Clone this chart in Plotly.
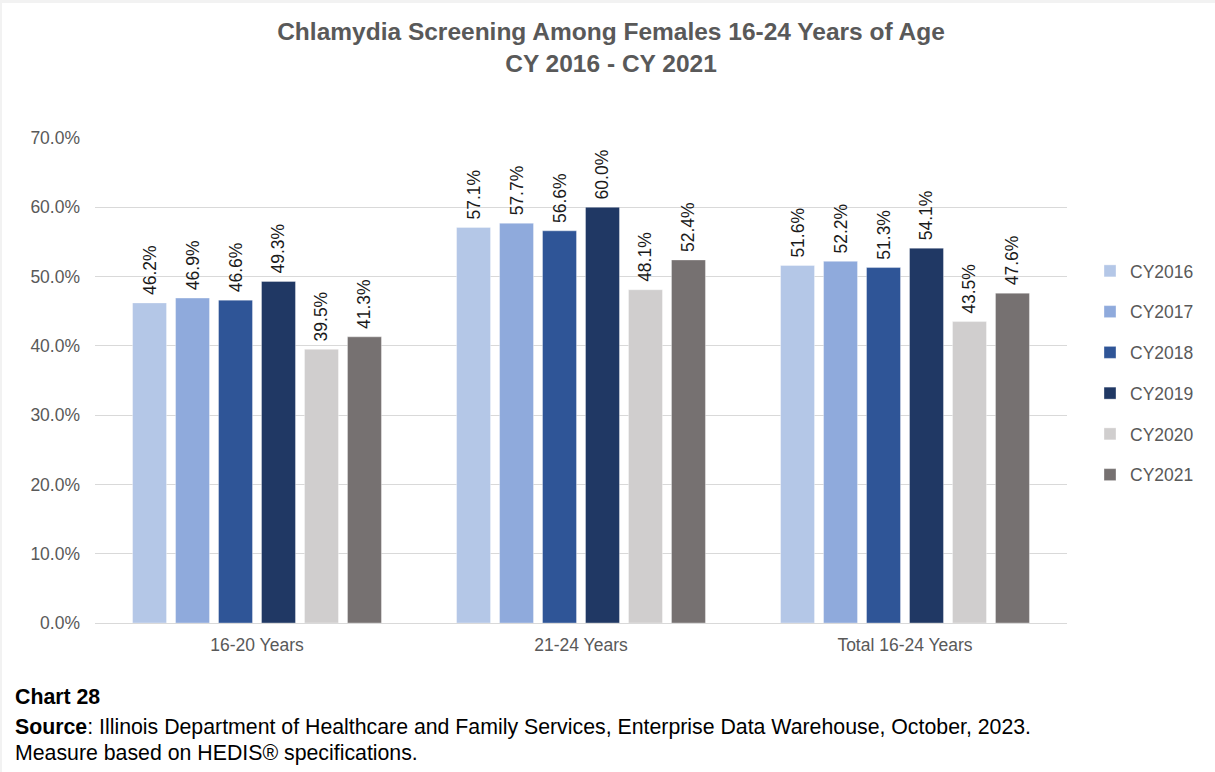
import plotly.graph_objects as go

# Screening rates (share of members screened) by age group and calendar year
categories = ["16-20 Years", "21-24 Years", "Total 16-24 Years"]
years = ["CY2016", "CY2017", "CY2018", "CY2019", "CY2020", "CY2021"]
cy2016 = [0.462, 0.571, 0.516]
cy2017 = [0.469, 0.577, 0.522]
cy2018 = [0.466, 0.566, 0.513]
cy2019 = [0.493, 0.600, 0.541]
cy2020 = [0.395, 0.481, 0.435]
cy2021 = [0.413, 0.524, 0.476]
series = [cy2016, cy2017, cy2018, cy2019, cy2020, cy2021]
colors = ["#b4c7e7", "#8faadc", "#2f5597", "#203864", "#d0cece", "#767171"]

W, H = 1215, 772
ML, MR, MT, MB = 95, 148, 138, 149
PW, PH = W - ML - MR, H - MT - MB

FONT = "Liberation Sans, Arial, sans-serif"
GREY = "#595959"

fig = go.Figure()
for name, vals, col in zip(years, series, colors):
    fig.add_trace(go.Bar(
        name=name, x=categories, y=vals,
        marker=dict(color=col, line=dict(color="rgba(255,255,255,0.35)", width=1)),
        texttemplate="\u00a0%{y:.1%}", textposition="outside", textangle=-90,
        constraintext="none",
        textfont=dict(family=FONT, size=17.5, color="#1a1a1a"),
        cliponaxis=False, legendgroup=name,
    ))

def px_to_paper_x(px):
    return (px - ML) / PW

def px_to_paper_y(py):
    return (H - MB - py) / PH

shapes = [
    # light page frame visible along the top and left edges
    dict(type="rect", xref="paper", yref="paper", layer="below",
         x0=px_to_paper_x(0), x1=px_to_paper_x(W), y0=px_to_paper_y(0), y1=px_to_paper_y(3),
         fillcolor="#f2f2f2", line=dict(width=0)),
    dict(type="rect", xref="paper", yref="paper", layer="below",
         x0=px_to_paper_x(0), x1=px_to_paper_x(2), y0=px_to_paper_y(H), y1=px_to_paper_y(0),
         fillcolor="#f2f2f2", line=dict(width=0)),
]

notes = [
    dict(text="<b>Chart 28</b>", y=697),
    dict(text="<b>Source</b>: Illinois Department of Healthcare and Family Services, Enterprise Data Warehouse, October, 2023.", y=727),
    dict(text="Measure based on HEDIS® specifications.", y=753),
]
annotations = [
    dict(text=n["text"], xref="paper", yref="paper", x=px_to_paper_x(13), y=px_to_paper_y(n["y"]),
         xanchor="left", yanchor="middle", showarrow=False,
         font=dict(family=FONT, size=21.3, color="#000000"))
    for n in notes
]

fig.update_layout(
    width=W, height=H,
    margin=dict(l=ML, r=MR, t=MT, b=MB, autoexpand=False),
    paper_bgcolor="white", plot_bgcolor="white",
    title=dict(
        text="<b>Chlamydia Screening Among Females 16-24 Years of Age<br>CY 2016 - CY 2021</b>",
        x=611 / W, xanchor="center", y=1 - 40 / H, yanchor="middle",
        font=dict(family=FONT, size=24.5, color=GREY),
    ),
    barmode="group", bargap=0.204, bargroupgap=0.21,
    showlegend=True,
    legend=dict(
        x=px_to_paper_x(1090), y=px_to_paper_y(253), xanchor="left", yanchor="top",
        traceorder="grouped", tracegroupgap=15,
        font=dict(family=FONT, size=17.5, color=GREY),
        bgcolor="rgba(0,0,0,0)", itemwidth=30,
    ),
    xaxis=dict(
        showgrid=False, showline=True, linecolor="#d9d9d9", linewidth=1,
        ticks="", ticklabelstandoff=6,
        tickfont=dict(family=FONT, size=17.5, color=GREY),
    ),
    yaxis=dict(
        range=[0, 0.7], dtick=0.1, tickformat=".1%",
        showgrid=True, gridcolor="#d9d9d9", gridwidth=1,
        zeroline=False, showline=False, ticks="", ticklen=0,
        ticklabelstandoff=14,
        tickfont=dict(family=FONT, size=17.5, color=GREY),
    ),
    shapes=shapes, annotations=annotations,
    font=dict(family=FONT),
)

fig.write_html("out.html")
